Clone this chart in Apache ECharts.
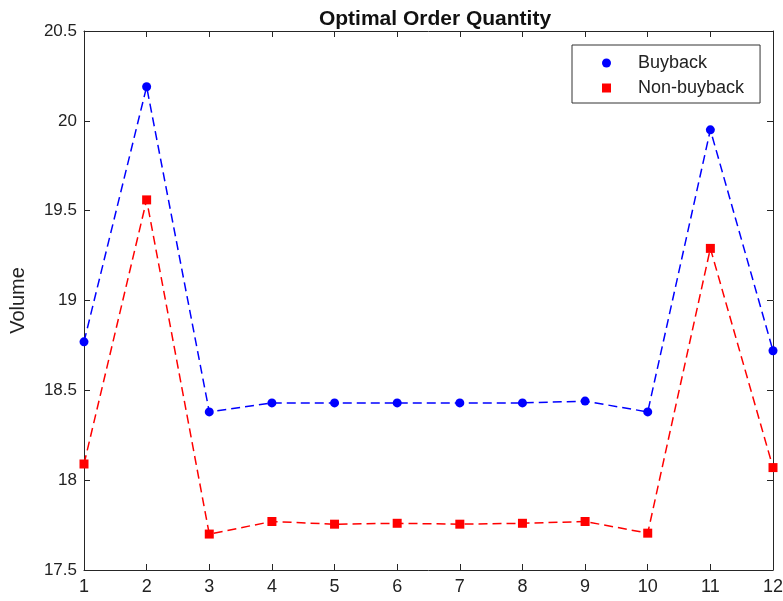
<!DOCTYPE html>
<html><head><meta charset="utf-8">
<script src="https://cdn.jsdelivr.net/npm/echarts@6/dist/echarts.min.js"></script>
<style>html,body{margin:0;padding:0;background:#fff}#c{width:783px;height:601px}</style>
</head><body><div id="c"></div>
<script>
const periods = [1,2,3,4,5,6,7,8,9,10,11,12];
const buyback = [18.77,20.19,18.38,18.43,18.43,18.43,18.43,18.43,18.44,18.38,19.95,18.72];
const nonBuyback = [18.09,19.56,17.70,17.77,17.755,17.76,17.755,17.76,17.77,17.705,19.29,18.07];
const yTicks = [17.5,18,18.5,19,19.5,20,20.5];

const chart = echarts.init(document.getElementById('c'), null, {renderer:'canvas'});
const axisColor = '#262626';
const font = 'Liberation Sans, Arial, sans-serif';
const pair = (xs, ys) => xs.map((x,i)=>[x, ys[i]]);
chart.setOption({
  animation:false,
  backgroundColor:'#fff',
  title:{text:'Optimal Order Quantity', left:430, textAlign:'center', top:4,
    textStyle:{fontFamily:font, fontSize:21, fontWeight:'bold', color:'#111'}},
  grid:{left:84, right:10, top:31, bottom:31, containLabel:false, outerBoundsMode:'none'},
  legend:{orient:'vertical', left:572, top:45, itemWidth:9, itemHeight:9, itemGap:7,
    padding:[9,16,6,30], backgroundColor:'#fff', borderColor:'#333', borderWidth:1,
    textStyle:{fontFamily:font, fontSize:18, lineHeight:18, color:'#222', padding:[0,0,0,22]},
    data:[{name:'Buyback', icon:'circle'},{name:'Non-buyback', icon:'rect'}]},
  xAxis:[
    {type:'value', min:1, max:12, interval:1, position:'bottom',
     axisLine:{lineStyle:{color:axisColor, width:1}},
     axisTick:{inside:true, length:6, lineStyle:{color:axisColor}},
     axisLabel:{fontFamily:font, fontSize:18, color:'#222', margin:8},
     splitLine:{show:false}},
    {type:'value', min:1, max:12, interval:1, position:'top',
     axisLine:{onZero:false, lineStyle:{color:axisColor, width:1}},
     axisTick:{inside:true, length:6, lineStyle:{color:axisColor}},
     axisLabel:{show:false}, splitLine:{show:false}}
  ],
  yAxis:[
    {type:'value', min:yTicks[0], max:yTicks[yTicks.length-1], interval:0.5, position:'left',
     name:'Volume', nameLocation:'middle', nameGap:56, nameRotate:90,
     nameTextStyle:{fontFamily:font, fontSize:20, color:'#222'},
     axisLine:{show:true, lineStyle:{color:axisColor, width:1}},
     axisTick:{show:true, inside:true, length:6, lineStyle:{color:axisColor}},
     axisLabel:{fontFamily:font, fontSize:17, color:'#222', margin:7,
       formatter:v=>String(v)},
     splitLine:{show:false}},
    {type:'value', min:yTicks[0], max:yTicks[yTicks.length-1], interval:0.5, position:'right',
     axisLine:{show:true, onZero:false, lineStyle:{color:axisColor, width:1}},
     axisTick:{show:true, inside:true, length:6, lineStyle:{color:axisColor}},
     axisLabel:{show:false}, splitLine:{show:false}}
  ],
  series:[
    {name:'Buyback', type:'line', data:pair(periods,buyback), symbol:'circle', symbolSize:9,
     itemStyle:{color:'#0000ff'}, lineStyle:{color:'#0000ff', width:1.5, type:[9,5]}},
    {name:'Non-buyback', type:'line', data:pair(periods,nonBuyback), symbol:'rect', symbolSize:9,
     itemStyle:{color:'#ff0000'}, lineStyle:{color:'#ff0000', width:1.5, type:[9,5]}}
  ]
});
</script></body></html>
